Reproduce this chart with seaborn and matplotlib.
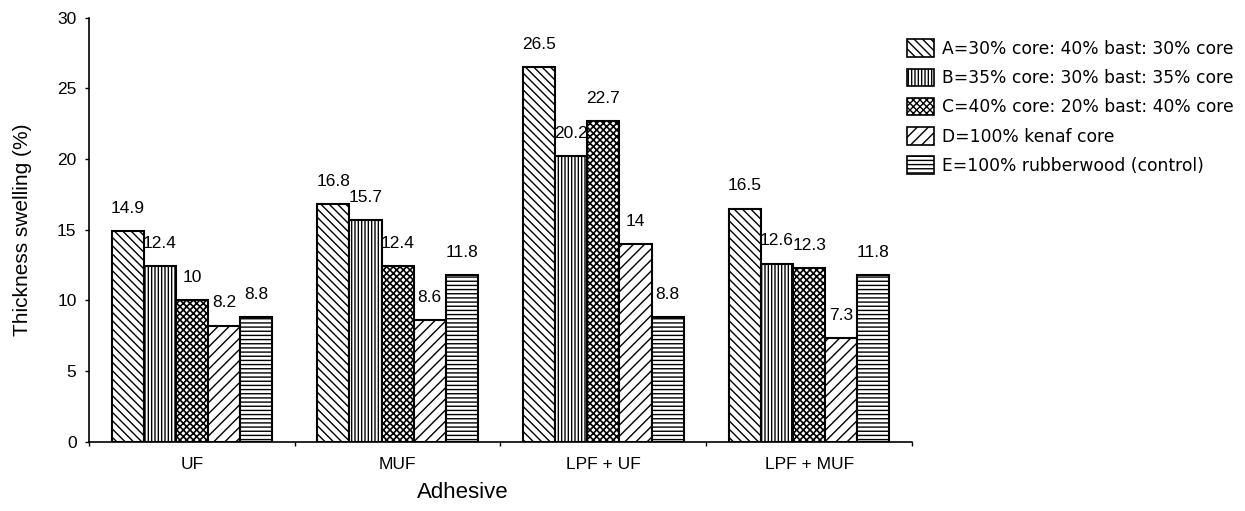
import matplotlib
matplotlib.use("Agg")
import matplotlib.pyplot as plt
from matplotlib.patches import Patch
from matplotlib.ticker import FixedLocator
import seaborn as sns
import pandas as pd

# Thickness swelling (%) by adhesive type and board composition
adhesives = ["UF", "MUF", "LPF + UF", "LPF + MUF"]
compositions = [
    "A=30% core: 40% bast: 30% core",
    "B=35% core: 30% bast: 35% core",
    "C=40% core: 20% bast: 40% core",
    "D=100% kenaf core",
    "E=100% rubberwood (control)",
]
swelling_A = [14.9, 16.8, 26.5, 16.5]
swelling_B = [12.4, 15.7, 20.2, 12.6]
swelling_C = [10, 12.4, 22.7, 12.3]
swelling_D = [8.2, 8.6, 14, 7.3]
swelling_E = [8.8, 11.8, 8.8, 11.8]
value_labels = [
    ["14.9", "16.8", "26.5", "16.5"],
    ["12.4", "15.7", "20.2", "12.6"],
    ["10", "12.4", "22.7", "12.3"],
    ["8.2", "8.6", "14", "7.3"],
    ["8.8", "11.8", "8.8", "11.8"],
]

series = [swelling_A, swelling_B, swelling_C, swelling_D, swelling_E]
rows = []
for comp, vals in zip(compositions, series):
    for adh, v in zip(adhesives, vals):
        rows.append({"Adhesive": adh, "Composition": comp, "Swelling": v})
df = pd.DataFrame(rows)

sns.set_style("white")
plt.rcParams["font.family"] = ["Liberation Sans", "DejaVu Sans"]
plt.rcParams["hatch.linewidth"] = 1.0
for key in ["text.color", "axes.labelcolor", "xtick.color", "ytick.color"]:
    plt.rcParams[key] = "black"

hatches = ["\\\\\\\\", "|||||", "xxxxx", "///", "----"]

fig = plt.figure(figsize=(12.45, 5.11), dpi=100)
ax = fig.add_axes([0.0715, 0.136, 0.661, 0.829])

sns.barplot(
    data=df, x="Adhesive", y="Swelling", hue="Composition",
    order=adhesives, hue_order=compositions,
    palette=["white"] * 5, edgecolor="black", linewidth=1.5,
    width=0.78, gap=0, legend=False, ax=ax, saturation=1,
)

for cont, h, labels in zip(ax.containers, hatches, value_labels):
    for bar in cont:
        bar.set_hatch(h)
        bar.set_facecolor("white")
        bar.set_edgecolor("black")
    ax.bar_label(cont, labels=labels, padding=11, fontsize=12.5, color="black")

# heavier crosshatch for the C boards
for bar in ax.containers[2]:
    try:
        bar.set_hatch_linewidth(1.2)
    except AttributeError:
        pass

ax.set_ylim(0, 30)
ax.set_xlim(-0.5, 3.5)
ax.set_yticks([0, 5, 10, 15, 20, 25, 30])
ax.tick_params(axis="y", labelsize=12.5, length=3, width=1, direction="out", left=True, pad=6)
ax.tick_params(axis="x", which="major", labelsize=12.5, length=0, pad=11)
ax.xaxis.set_minor_locator(FixedLocator([-0.5, 0.5, 1.5, 2.5, 3.5]))
ax.tick_params(axis="x", which="minor", length=3, width=1, direction="out", bottom=True)

for side in ["top", "right"]:
    ax.spines[side].set_visible(False)
for side in ["left", "bottom"]:
    ax.spines[side].set_color("black")
    ax.spines[side].set_linewidth(1.2)

ax.set_xlabel("Adhesive", fontsize=16)
ax.xaxis.set_label_coords(0.454, -0.096)
ax.set_ylabel("Thickness swelling (%)", fontsize=15)
ax.yaxis.set_label_coords(-0.069, 0.5)

handles = []
for comp, h in zip(compositions, hatches):
    p = Patch(facecolor="white", edgecolor="black", hatch=h, linewidth=1.2, label=comp)
    handles.append(p)
leg = fig.legend(
    handles=handles, loc="upper left", bbox_to_anchor=(0.7285, 0.923),
    frameon=False, handlelength=1.6, handleheight=1.2,
    handletextpad=0.45, labelspacing=0.63, borderpad=0, borderaxespad=0,
    prop={"family": "DejaVu Sans", "size": 12.3},
)
for t in leg.get_texts():
    t.set_color("black")

fig.savefig("out.png", dpi=100)
